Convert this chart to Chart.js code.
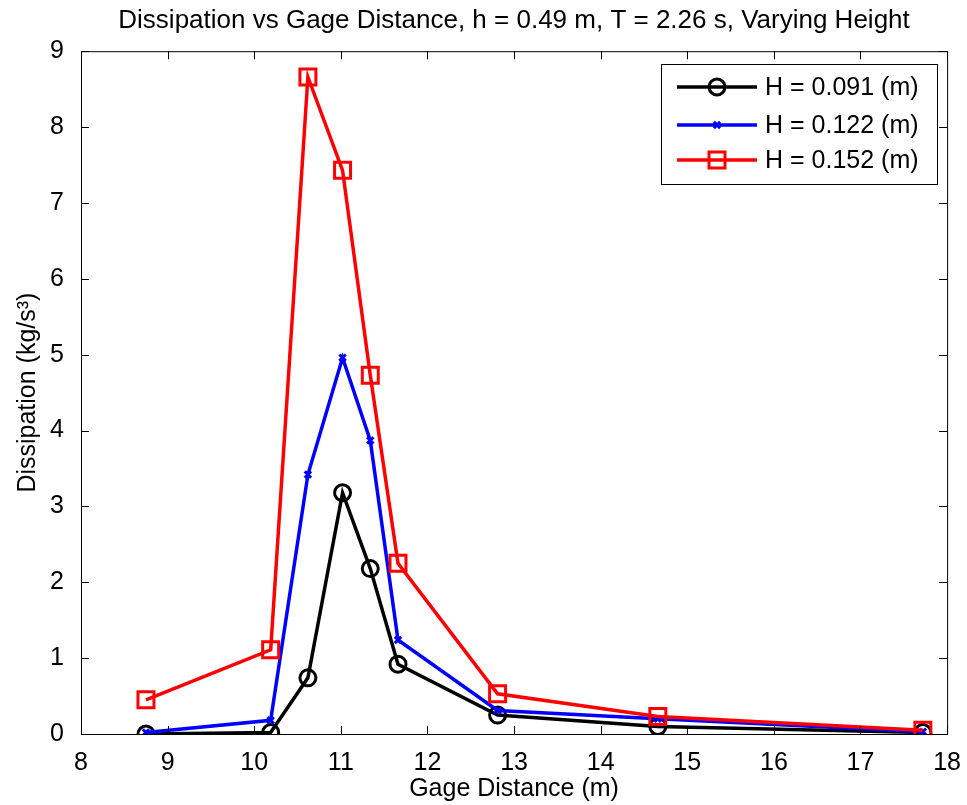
<!DOCTYPE html>
<html>
<head>
<meta charset="utf-8">
<script src="https://cdn.jsdelivr.net/npm/chart.js@4/dist/chart.umd.min.js"></script>
<style>
  html, body { margin: 0; padding: 0; background: #fff; }
  #wrap { width: 967px; height: 805px; }
</style>
</head>
<body>
<div id="wrap"><canvas id="dissChart" width="967" height="805"></canvas></div>
<script>
// === Data ===
const gageDist = [8.75, 10.19, 10.62, 11.02, 11.34, 11.66, 12.81, 14.66, 17.72];
const dissH091 = [0.00, 0.02, 0.74, 3.18, 2.18, 0.92, 0.25, 0.10, 0.02];
const dissH122 = [0.02, 0.18, 3.42, 4.96, 3.87, 1.24, 0.31, 0.20, 0.03];
const dissH152 = [0.45, 1.11, 8.66, 7.43, 4.73, 2.25, 0.53, 0.23, 0.05];
const seriesLabels = ['H = 0.091 (m)', 'H = 0.122 (m)', 'H = 0.152 (m)'];
const xTicks = [8, 9, 10, 11, 12, 13, 14, 15, 16, 17, 18];
const yTicks = [0, 1, 2, 3, 4, 5, 6, 7, 8, 9];

const FONT = "'Liberation Sans', Arial, Helvetica, sans-serif";
const TICK_LEN = 8;

Chart.defaults.font.family = FONT;
Chart.defaults.color = '#000';

const pts = (ys) => gageDist.map((x, i) => ({ x, y: ys[i] }));

// box round the axes, inward ticks on all four sides, legend inside top right
const matlabAxes = {
    id: 'matlabAxes',
    afterDatasetsDraw(chart) {
        const { ctx, chartArea: a, scales } = chart;
        ctx.save();
        ctx.strokeStyle = '#000';
        ctx.lineWidth = 1;
        ctx.strokeRect(a.left + 0.5, a.top + 0.5, a.right - a.left, a.bottom - a.top);
        ctx.beginPath();
        xTicks.forEach(v => {
            const px = Math.round(scales.x.getPixelForValue(v)) + 0.5;
            ctx.moveTo(px, a.bottom); ctx.lineTo(px, a.bottom - TICK_LEN);
            ctx.moveTo(px, a.top); ctx.lineTo(px, a.top + TICK_LEN);
        });
        yTicks.forEach(v => {
            const py = Math.round(scales.y.getPixelForValue(v)) + 0.5;
            ctx.moveTo(a.left, py); ctx.lineTo(a.left + TICK_LEN, py);
            ctx.moveTo(a.right, py); ctx.lineTo(a.right - TICK_LEN, py);
        });
        ctx.stroke();

        // legend
        const box = { x: 661, y: 64, w: 276, h: 120 };
        ctx.fillStyle = '#fff';
        ctx.fillRect(box.x, box.y, box.w, box.h);
        ctx.strokeRect(box.x + 0.5, box.y + 0.5, box.w, box.h);
        const rows = [87, 125, 160];
        chart.data.datasets.forEach((ds, i) => {
            const y = rows[i];
            ctx.strokeStyle = ds.borderColor;
            ctx.lineWidth = ds.borderWidth;
            ctx.beginPath();
            ctx.moveTo(677, y); ctx.lineTo(757, y);
            ctx.stroke();
            ctx.strokeStyle = ds.pointBorderColor;
            ctx.fillStyle = 'rgba(0,0,0,0)';
            ctx.lineWidth = ds.pointBorderWidth;
            Chart.helpers.drawPoint(ctx, {
                pointStyle: ds.pointStyle,
                radius: ds.pointRadius,
                borderWidth: ds.pointBorderWidth,
                rotation: 0
            }, 717, y);
            ctx.fillStyle = '#000';
            ctx.font = `25px ${FONT}`;
            ctx.textAlign = 'left';
            ctx.textBaseline = 'middle';
            ctx.fillText(ds.label, 765, y + 1);
        });
        ctx.restore();
    }
};

new Chart(document.getElementById('dissChart'), {
    type: 'line',
    data: {
        datasets: [{
            label: seriesLabels[0],
            data: pts(dissH091),
            borderColor: '#000',
            backgroundColor: 'rgba(0,0,0,0)',
            borderWidth: 3.5,
            pointStyle: 'circle',
            pointRadius: 8,
            pointBorderWidth: 3,
            pointBorderColor: '#000',
            pointBackgroundColor: 'rgba(0,0,0,0)',
            order: 2
        }, {
            label: seriesLabels[1],
            data: pts(dissH122),
            borderColor: '#0000ff',
            backgroundColor: 'rgba(0,0,0,0)',
            borderWidth: 3.5,
            pointStyle: 'crossRot',
            pointRadius: 4.5,
            pointBorderWidth: 3,
            pointBorderColor: '#0000ff',
            pointBackgroundColor: 'rgba(0,0,0,0)',
            order: 1
        }, {
            label: seriesLabels[2],
            data: pts(dissH152),
            borderColor: '#ff0000',
            backgroundColor: 'rgba(0,0,0,0)',
            borderWidth: 3.5,
            pointStyle: 'rect',
            pointRadius: 11.3,
            pointBorderWidth: 3,
            pointBorderColor: '#ff0000',
            pointBackgroundColor: 'rgba(0,0,0,0)',
            order: 0
        }]
    },
    options: {
        responsive: false,
        animation: false,
        parsing: false,
        layout: { padding: { left: 0, right: 18, top: 0, bottom: 0 } },
        elements: { line: { tension: 0 } },
        scales: {
            x: {
                type: 'linear',
                min: 8,
                max: 18,
                grid: { display: false },
                border: { display: false },
                afterBuildTicks: (s) => { s.ticks = xTicks.map(v => ({ value: v })); },
                afterFit: (s) => { s.height = 71; },
                ticks: { padding: 6, font: { size: 25 }, maxRotation: 0 },
                title: {
                    display: true,
                    text: 'Gage Distance (m)',
                    font: { size: 25 },
                    padding: { top: 0, bottom: 1 }
                }
            },
            y: {
                min: 0,
                max: 9,
                grid: { display: false },
                border: { display: false },
                afterBuildTicks: (s) => { s.ticks = yTicks.map(v => ({ value: v })); },
                afterFit: (s) => { s.width = 81; },
                ticks: { padding: 9, font: { size: 25 } },
                title: {
                    display: true,
                    text: 'Dissipation (kg/s³)',
                    font: { size: 25 },
                    padding: { top: 13, bottom: 0 }
                }
            }
        },
        plugins: {
            legend: { display: false },
            tooltip: { enabled: false },
            title: {
                display: true,
                fullSize: false,
                text: 'Dissipation vs Gage Distance, h = 0.49 m, T = 2.26 s, Varying Height',
                font: { size: 26, weight: 'normal' },
                color: '#000',
                padding: { top: 5, bottom: 15 }
            }
        }
    },
    plugins: [matlabAxes]
});
</script>
</body>
</html>
